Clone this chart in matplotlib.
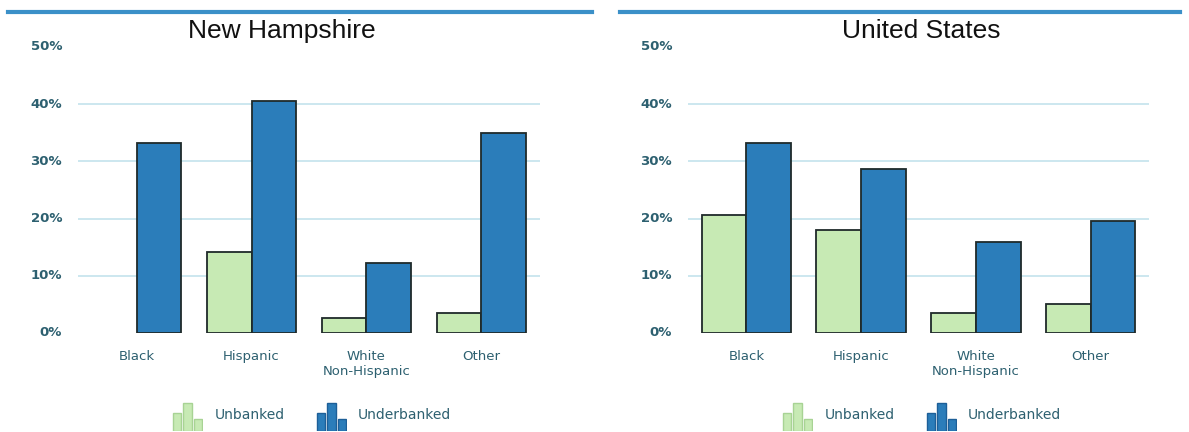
import matplotlib
matplotlib.use("Agg")
import matplotlib.pyplot as plt
import numpy as np

categories = ["Black", "Hispanic", "White\nNon-Hispanic", "Other"]
nh_unbanked = [0.0, 14.1, 2.6, 3.5]
nh_underbanked = [33.3, 40.5, 12.2, 34.9]
us_unbanked = [20.6, 18.0, 3.5, 5.1]
us_underbanked = [33.2, 28.6, 15.9, 19.5]
yticks = [0, 10, 20, 30, 40, 50]
ytick_labels = ["0%", "10%", "20%", "30%", "40%", "50%"]
series_names = ["Unbanked", "Underbanked"]
icon_heights = [0.65, 1.0, 0.42]

GREEN = "#c7eab4"
BLUE = "#2b7dba"
EDGE = "#1f2a2a"
TEXT = "#2d6070"
GRID = "#c4e3ec"
TOPLINE = "#3b90c8"

W, H = 1189, 432
fig = plt.figure(figsize=(W / 100, H / 100), dpi=100)

def px(x0, y0, x1, y1):
    return [x0 / W, 1 - y1 / H, (x1 - x0) / W, (y1 - y0) / H]

def panel(ax_rect, unb, und, title, title_x, line_x):
    ax = fig.add_axes(px(*ax_rect))
    x = np.arange(len(categories))
    w = 0.39
    lw_unb = [1.3 if v > 0 else 0 for v in unb]
    ax.bar(x - w / 2, unb, width=w, color=GREEN, edgecolor=EDGE, linewidth=lw_unb, zorder=3)
    ax.bar(x + w / 2, und, width=w, color=BLUE, edgecolor=EDGE, linewidth=1.3, zorder=3)
    ax.set_xlim(-0.51, 3.51)
    ax.set_ylim(0, 50)
    ax.set_yticks(yticks[1:5])
    ax.set_yticklabels([])
    ax.grid(axis="y", color=GRID, linewidth=1.2, zorder=0)
    for s in ax.spines.values():
        s.set_visible(False)
    ax.tick_params(length=0)
    ax.set_xticks(x)
    ax.set_xticklabels([])
    for v, lab in zip(yticks, ytick_labels):
        ax.annotate(lab, xy=(0, v), xycoords=("axes fraction", "data"),
                    xytext=(-16, 0), textcoords="offset pixels",
                    ha="right", va="center", fontsize=9.5, color=TEXT,
                    fontweight="bold", family="DejaVu Sans", annotation_clip=False)
    for xi, cat in zip(x, categories):
        ax.annotate(cat, xy=(xi, 0), xycoords="data",
                    xytext=(0, -17), textcoords="offset pixels",
                    ha="center", va="top", fontsize=9.5, color=TEXT,
                    family="DejaVu Sans", linespacing=1.25, annotation_clip=False)
    fig.text(title_x / W, 1 - 31 / H, title, ha="center", va="center",
             fontsize=19, color="#111111", family="Liberation Sans")
    fig.add_artist(plt.Line2D([line_x[0] / W, line_x[1] / W], [1 - 12 / H] * 2,
                              color=TOPLINE, linewidth=3))
    return ax

panel((78, 47, 540, 333), nh_unbanked, nh_underbanked, "New Hampshire", 282, (8, 592))
panel((688, 47, 1149, 333), us_unbanked, us_underbanked, "United States", 921, (620, 1180))

def legend(x0, text_offsets):
    specs = [(GREEN, "#a8d394", series_names[0]), (BLUE, "#1d5f98", series_names[1])]
    starts = [x0, x0 + 144]
    for (fc, ec, name), sx, toff in zip(specs, starts, text_offsets):
        iax = fig.add_axes(px(sx, 402, sx + 31, 431))
        iax.bar(range(3), icon_heights, width=0.78, color=fc, edgecolor=ec, linewidth=1.0)
        iax.set_xlim(-0.45, 2.45)
        iax.set_ylim(0, 1.02)
        iax.axis("off")
        fig.text((sx + toff) / W, 1 - 415 / H, name, ha="left", va="center",
                 fontsize=10, color=TEXT, family="DejaVu Sans")

legend(172, [43, 42])
legend(782, [43, 42])

fig.savefig("out.png", dpi=100)
